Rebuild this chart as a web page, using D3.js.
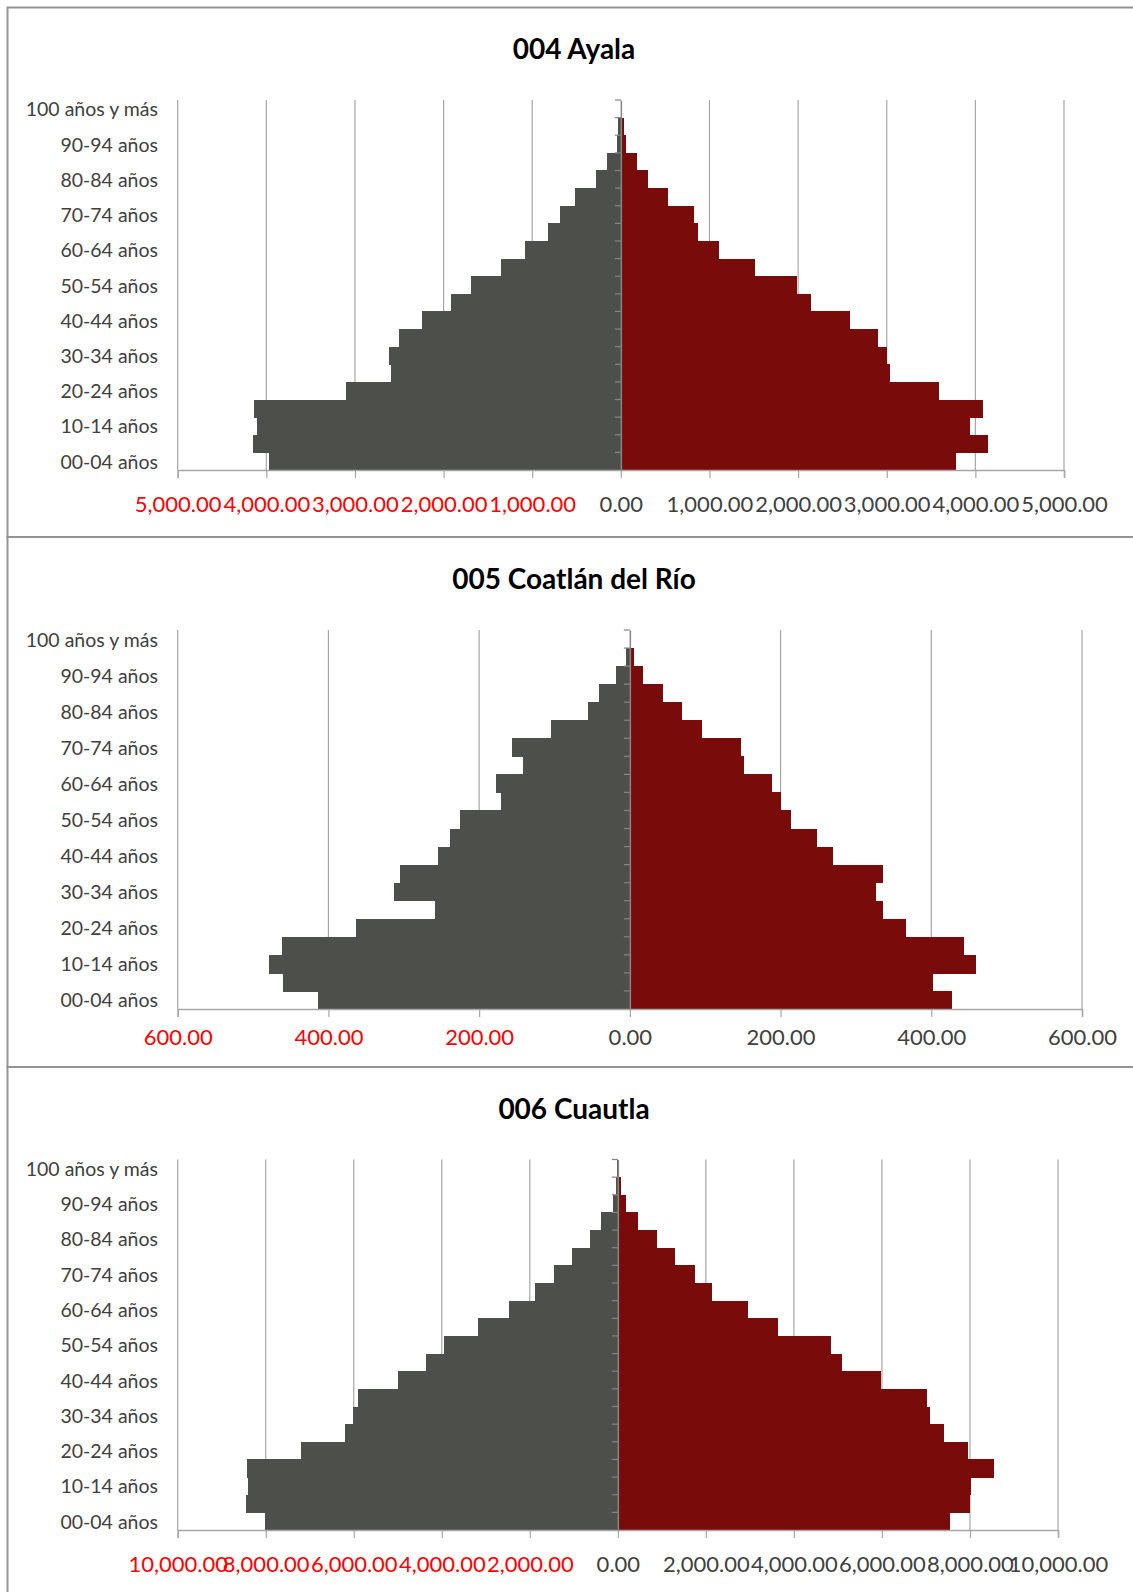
<!DOCTYPE html>
<html>
<head>
<meta charset="utf-8">
<script src="https://cdn.jsdelivr.net/npm/d3@7"></script>
<style>
  body { margin: 0; background: #fff; }
  text { font-family: Lato, "Open Sans", sans-serif; }
</style>
</head>
<body>
<div id="chart"></div>
<script>
// age groups, bottom to top
const ageGroups = ["00-04 años","05-09 años","10-14 años","15-19 años","20-24 años","25-29 años",
  "30-34 años","35-39 años","40-44 años","45-49 años","50-54 años","55-59 años","60-64 años",
  "65-69 años","70-74 años","75-79 años","80-84 años","85-89 años","90-94 años","95-99 años","100 años y más"];

const ayalaHombres = [3970, 4155, 4100, 4141, 3098, 2595, 2618, 2502, 2244, 1911, 1694, 1348, 1080, 822, 692, 517, 286, 152, 46, 28, 3];
const ayalaMujeres = [3780, 4143, 3941, 4085, 3590, 3042, 3005, 2898, 2580, 2148, 1991, 1513, 1109, 874, 820, 532, 301, 181, 62, 37, 3];

const coatlanHombres = [414, 460, 479, 461, 363, 259, 313, 305, 254, 238, 225, 171, 177, 142, 157, 105, 56, 41, 19, 5, 0];
const coatlanMujeres = [428, 402, 459, 444, 367, 336, 326, 336, 270, 248, 214, 201, 188, 151, 147, 96, 69, 44, 18, 6, 0];

const cuautlaHombres = [8020, 8448, 8392, 8420, 7193, 6199, 6013, 5911, 5000, 4359, 3959, 3169, 2463, 1887, 1450, 1041, 632, 390, 112, 46, 10];
const cuautlaMujeres = [7537, 8002, 8027, 8549, 7944, 7421, 7098, 7015, 5978, 5100, 4834, 3648, 2952, 2131, 1750, 1294, 879, 448, 191, 75, 33];

const titles = ["004 Ayala", "005 Coatlán del Río", "006 Cuautla"];
const axisMax = [5000, 600, 10000];
const tickStep = [1000, 200, 2000];

const colorHombres = "#4d4f4b";
const colorMujeres = "#7a0b0b";
const gridColor = "#a6a6a6";
const labelColor = "#404040";

const width = 1133, height = 1592;

const svg = d3.select("#chart")
  .append("svg")
  .attr("width", width)
  .attr("height", height);

// panel layout (pixels)
const panels = [
  {top: 7.5, bottom: 537, titleY: 48, plotTop: 100, plotBottom: 470, right: 1064, tickY: 504,
   hombres: ayalaHombres, mujeres: ayalaMujeres},
  {top: 537, bottom: 1067, titleY: 578, plotTop: 630, plotBottom: 1009, right: 1082, tickY: 1037,
   hombres: coatlanHombres, mujeres: coatlanMujeres},
  {top: 1067, bottom: 1600, titleY: 1108, plotTop: 1159.5, plotBottom: 1530, right: 1058, tickY: 1564,
   hombres: cuautlaHombres, mujeres: cuautlaMujeres}
];
const plotLeft = 177.7;

panels.forEach(function(p, k) {
  const g = svg.append("g");

  // panel frame
  g.append("rect")
    .attr("x", 7.5).attr("y", p.top)
    .attr("width", 1140).attr("height", p.bottom - p.top)
    .attr("fill", "none")
    .attr("stroke", "#949494")
    .attr("stroke-width", 2);

  // title
  g.append("text")
    .attr("x", 574).attr("y", p.titleY)
    .attr("text-anchor", "middle")
    .attr("dominant-baseline", "central")
    .style("font-size", "28px")
    .style("font-weight", "bold")
    .style("fill", "#000")
    .text(titles[k]);

  const max = axisMax[k];
  const x = d3.scaleLinear()
    .domain([-max, max])
    .range([plotLeft, p.right]);

  const y = d3.scaleBand()
    .domain(ageGroups.slice().reverse())
    .range([p.plotTop, p.plotBottom])
    .padding(0);

  const ticks = d3.range(-max, max + 1, tickStep[k]);

  // vertical gridlines
  g.selectAll(".grid")
    .data(ticks.filter(d => d !== 0))
    .join("line")
    .attr("x1", d => x(d)).attr("x2", d => x(d))
    .attr("y1", p.plotTop).attr("y2", p.plotBottom)
    .attr("stroke", gridColor)
    .attr("stroke-width", 1.2);

  // bars - hombres on the left
  g.selectAll(".barH")
    .data(p.hombres)
    .join("rect")
    .attr("x", d => x(-d))
    .attr("y", (d, i) => y(ageGroups[i]))
    .attr("width", d => x(0) - x(-d))
    .attr("height", y.bandwidth() + 0.6)
    .attr("fill", colorHombres)
    .attr("shape-rendering", "crispEdges");

  // bars - mujeres on the right
  g.selectAll(".barM")
    .data(p.mujeres)
    .join("rect")
    .attr("x", x(0))
    .attr("y", (d, i) => y(ageGroups[i]))
    .attr("width", d => x(d) - x(0))
    .attr("height", y.bandwidth() + 0.6)
    .attr("fill", colorMujeres)
    .attr("shape-rendering", "crispEdges");

  // x axis
  const xAxis = g.append("g")
    .attr("transform", `translate(0,${p.plotBottom})`)
    .call(d3.axisBottom(x)
      .tickValues(ticks)
      .tickSize(8)
      .tickFormat(d => d3.format(",.2f")(Math.abs(d))));
  xAxis.select(".domain").attr("stroke", gridColor).attr("stroke-width", 1.5);
  xAxis.selectAll(".tick line").attr("stroke", gridColor).attr("stroke-width", 1.2);
  xAxis.selectAll(".tick text")
    .attr("y", p.tickY - p.plotBottom)
    .attr("dy", "0.35em")
    .style("font-size", "22px")
    .style("font-family", "Lato, sans-serif")
    .style("fill", d => d < 0 ? "#ff0000" : labelColor);

  // y axis at zero
  const yAxis = g.append("g")
    .attr("transform", `translate(${x(0)},0)`)
    .call(d3.axisLeft(y).tickSize(0).tickFormat(""));
  yAxis.select(".domain").attr("stroke", "#868686").attr("stroke-width", 1.5);

  // small ticks at band boundaries
  g.selectAll(".bandTick")
    .data(ageGroups)
    .join("line")
    .attr("x1", x(0) - 6).attr("x2", x(0))
    .attr("y1", d => y(d)).attr("y2", d => y(d))
    .attr("stroke", "#868686")
    .attr("stroke-width", 1.2);

  // category labels, every second group
  g.selectAll(".catLabel")
    .data(ageGroups.filter((d, i) => i % 2 === 0))
    .join("text")
    .attr("x", 158)
    .attr("y", d => y(d) + y.bandwidth() / 2)
    .attr("text-anchor", "end")
    .attr("dominant-baseline", "central")
    .style("font-size", "19.5px")
    .style("fill", labelColor)
    .text(d => d);
});
</script>
</body>
</html>
